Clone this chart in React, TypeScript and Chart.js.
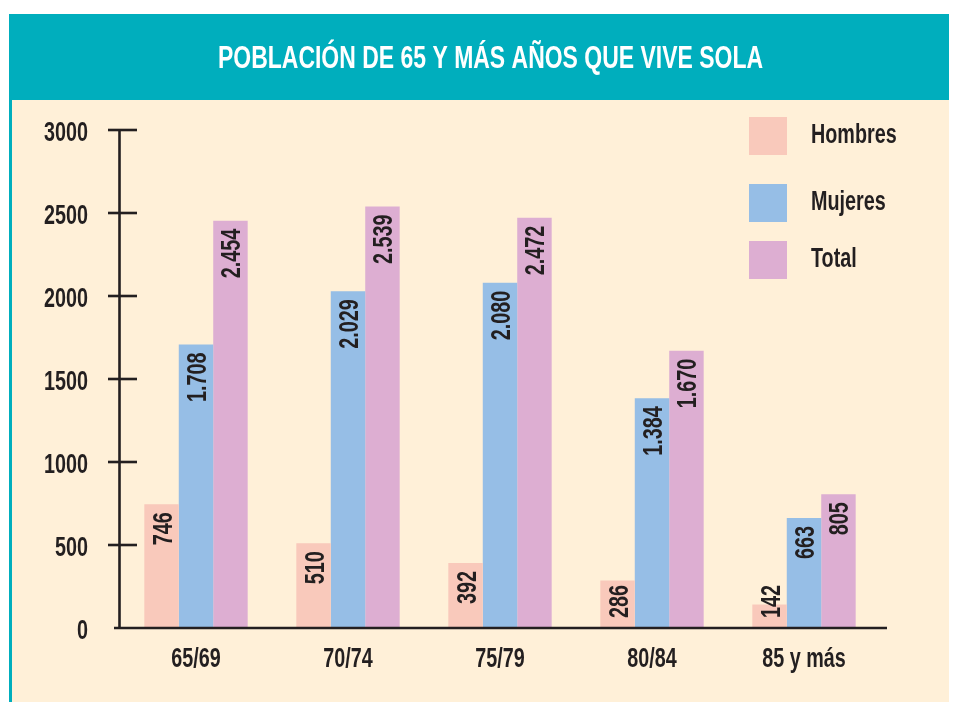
import React, { useEffect, useRef } from "react";
import { Chart, registerables } from "chart.js";

Chart.register(...registerables);

const categories = ["65/69", "70/74", "75/79", "80/84", "85 y más"];
const hombres = [746, 510, 392, 286, 142];
const mujeres = [1708, 2029, 2080, 1384, 663];
const total = [2454, 2539, 2472, 1670, 805];
const seriesNames = ["Hombres", "Mujeres", "Total"];
const seriesColors = ["#F9C9BB", "#96BEE6", "#DDAED2"];
const titleText = "POBLACIÓN DE 65 Y MÁS AÑOS QUE VIVE SOLA";

const FONT = "'Liberation Sans', Arial, sans-serif";
const INK = "#231F20";
const TEAL = "#00AEBD";
const CREAM = "#FFF0D8";
const SIZE = 28;
const CAP = 0.716;
let SX = 0.72;

function fmt(v: number): string {
  if (v >= 1000) return Math.floor(v / 1000) + "." + String(v % 1000).padStart(3, "0");
  return String(v);
}

function txt(ctx: CanvasRenderingContext2D, s: string, x: number, y: number, size: number, align: CanvasTextAlign, color: string, sx = SX, rot = 0, weight = "bold") {
  ctx.save();
  ctx.translate(x, y);
  if (rot) ctx.rotate(rot);
  ctx.scale(sx, 1);
  ctx.font = `${weight} ${size}px ${FONT}`;
  ctx.textAlign = align;
  ctx.textBaseline = "alphabetic";
  ctx.fillStyle = color;
  ctx.fillText(s, 0, (size * CAP) / 2);
  ctx.restore();
}

function rawWidth(ctx: CanvasRenderingContext2D, s: string, size: number, weight = "bold") {
  ctx.save();
  ctx.font = `${weight} ${size}px ${FONT}`;
  const w = ctx.measureText(s).width;
  ctx.restore();
  return w;
}

const backgroundPlugin = {
  id: "bg",
  beforeDraw(chart: any) {
    const ctx = chart.ctx as CanvasRenderingContext2D;
    SX = 44 / rawWidth(ctx, "0000", SIZE);
    ctx.save();
    ctx.fillStyle = "#FFFFFF";
    ctx.fillRect(0, 0, chart.width, chart.height);
    ctx.fillStyle = TEAL;
    ctx.fillRect(9, 14, 940, 86);
    ctx.fillStyle = CREAM;
    ctx.fillRect(9, 100, 940, chart.height - 100);
    ctx.fillStyle = TEAL;
    ctx.fillRect(9, 100, 3, chart.height - 100);
    ctx.restore();
    const tsize = 32;
    const sx = 545 / rawWidth(ctx, titleText, tsize, "bold");
    txt(ctx, titleText, 490.5, 57, tsize, "center", "#FFFFFF", sx, 0, "bold");
  },
};

const decorPlugin = {
  id: "decor",
  afterDatasetsDraw(chart: any) {
    const ctx = chart.ctx as CanvasRenderingContext2D;
    const ys = chart.scales.y;
    const xs = chart.scales.x;
    const area = chart.chartArea;
    const base = ys.getPixelForValue(0);
    ctx.save();
    ctx.strokeStyle = INK;
    ctx.lineWidth = 2.6;
    ctx.beginPath();
    ctx.moveTo(area.left - 0.5, ys.getPixelForValue(ys.max) - 1);
    ctx.lineTo(area.left - 0.5, base);
    ctx.stroke();
    ctx.beginPath();
    ctx.moveTo(area.left - 6, base);
    ctx.lineTo(area.right + 7, base);
    ctx.stroke();
    ys.ticks.forEach((t: any) => {
      const y = ys.getPixelForValue(t.value);
      if (t.value !== 0) {
        ctx.beginPath();
        ctx.moveTo(area.left - 12, y);
        ctx.lineTo(area.left + 17, y);
        ctx.stroke();
      }
      txt(ctx, String(t.value), area.left - 32, y + 1, SIZE, "right", INK);
    });
    ctx.restore();
    categories.forEach((c, i) => {
      txt(ctx, c, xs.getPixelForValue(i), base + 29, SIZE, "center", INK);
    });
    chart.data.datasets.forEach((ds: any, di: number) => {
      const meta = chart.getDatasetMeta(di);
      meta.data.forEach((bar: any, i: number) => {
        const v = ds.data[i] as number;
        const s = fmt(v);
        const len = rawWidth(ctx, s, SIZE) * SX;
        const top = Math.min(bar.y + 8, base - 10 - len);
        txt(ctx, s, bar.x, top, SIZE, "right", INK, SX, -Math.PI / 2);
      });
    });
    const boxTops = [117, 184, 241];
    seriesNames.forEach((n, i) => {
      ctx.save();
      ctx.fillStyle = seriesColors[i];
      ctx.fillRect(749, boxTops[i], 38, 38);
      ctx.restore();
      txt(ctx, n, 811, boxTops[i] + 16, SIZE, "left", INK);
    });
  },
};

export default function App() {
  const ref = useRef<HTMLCanvasElement | null>(null);
  useEffect(() => {
    if (!ref.current) return;
    const chart = new Chart(ref.current, {
      type: "bar",
      data: {
        labels: categories,
        datasets: [
          { label: seriesNames[0], data: hombres, backgroundColor: seriesColors[0] },
          { label: seriesNames[1], data: mujeres, backgroundColor: seriesColors[1] },
          { label: seriesNames[2], data: total, backgroundColor: seriesColors[2] },
        ],
      },
      options: {
        responsive: false,
        animation: false,
        devicePixelRatio: 1,
        events: [],
        layout: { padding: { left: 0, right: 77, top: 130, bottom: 0 } },
        datasets: { bar: { categoryPercentage: 0.68, barPercentage: 1.0 } },
        plugins: { legend: { display: false }, title: { display: false }, tooltip: { enabled: false } },
        scales: {
          x: {
            grid: { display: false },
            border: { display: false },
            ticks: { display: false },
            afterFit: (s: any) => { s.height = 74; },
          },
          y: {
            min: 0,
            max: 3000,
            ticks: { display: false, stepSize: 500 },
            grid: { display: false },
            border: { display: false },
            afterFit: (s: any) => { s.width = 120; },
          },
        },
      },
      plugins: [backgroundPlugin, decorPlugin],
    });
    return () => chart.destroy();
  }, []);
  return (
    <div style={{ position: "absolute", left: 0, top: 0, width: 957, height: 702, background: "#fff" }}>
      <canvas ref={ref} width={957} height={702} style={{ display: "block", width: 957, height: 702 }} />
    </div>
  );
}
